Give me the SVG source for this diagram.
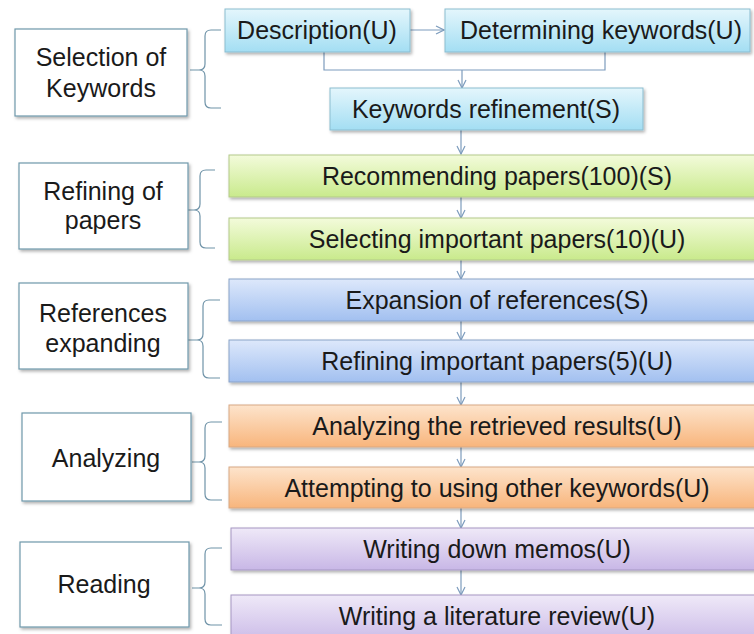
<svg xmlns="http://www.w3.org/2000/svg" width="754" height="634" viewBox="0 0 754 634">
<defs>
<linearGradient id="gCyan" x1="0" y1="0" x2="0" y2="1"><stop offset="0" stop-color="#e4f6fc"/><stop offset="1" stop-color="#a3def3"/></linearGradient>
<linearGradient id="gGreen" x1="0" y1="0" x2="0" y2="1"><stop offset="0" stop-color="#f3fbdb"/><stop offset="1" stop-color="#c9ea8c"/></linearGradient>
<linearGradient id="gBlue" x1="0" y1="0" x2="0" y2="1"><stop offset="0" stop-color="#dde8fb"/><stop offset="1" stop-color="#a2c0f0"/></linearGradient>
<linearGradient id="gOrange" x1="0" y1="0" x2="0" y2="1"><stop offset="0" stop-color="#fde4cc"/><stop offset="1" stop-color="#f8b57c"/></linearGradient>
<linearGradient id="gPurple" x1="0" y1="0" x2="0" y2="1"><stop offset="0" stop-color="#efe9f8"/><stop offset="1" stop-color="#c8b7e6"/></linearGradient>
<filter id="sh" x="-10%" y="-20%" width="120%" height="150%">
<feDropShadow dx="1.5" dy="2" stdDeviation="1.5" flood-color="#000" flood-opacity="0.3"/>
</filter>
<marker id="ah" viewBox="0 0 10 10" refX="9" refY="5" markerWidth="10" markerHeight="10" markerUnits="userSpaceOnUse" orient="auto">
<path d="M1,1 L9,5 L1,9" fill="none" stroke="#7d9cbd" stroke-width="1.2"/>
</marker>
</defs>
<style>
text{font-family:"Liberation Sans",Arial,sans-serif;font-size:25px;fill:#1a1a1a;text-anchor:middle}
.lbl{fill:#ffffff;stroke:#6f98ab;stroke-width:1.2}
.cy{fill:url(#gCyan);stroke:#8bbdd0;stroke-width:1}
.gr{fill:url(#gGreen);stroke:#b3c98a;stroke-width:1}
.bl{fill:url(#gBlue);stroke:#8aa3c8;stroke-width:1}
.or{fill:url(#gOrange);stroke:#d8a884;stroke-width:1}
.pu{fill:url(#gPurple);stroke:#a596c2;stroke-width:1}
.con{fill:none;stroke:#7d9cbd;stroke-width:1.2}
.br{fill:none;stroke:#6f93a8;stroke-width:1.2}
</style>
<rect width="754" height="634" fill="#ffffff"/>

<g id="connectors">
<line class="con" x1="410" y1="30" x2="444" y2="30" marker-end="url(#ah)"/>
<path class="con" d="M324,52 V70 H605 V52"/>
<line class="con" x1="462" y1="70" x2="462" y2="88" marker-end="url(#ah)"/>
<line class="con" x1="461" y1="130" x2="461" y2="154" marker-end="url(#ah)"/>
<line class="con" x1="461" y1="197" x2="461" y2="218" marker-end="url(#ah)"/>
<line class="con" x1="461" y1="260" x2="461" y2="279" marker-end="url(#ah)"/>
<line class="con" x1="461" y1="321" x2="461" y2="340" marker-end="url(#ah)"/>
<line class="con" x1="461" y1="382" x2="461" y2="405" marker-end="url(#ah)"/>
<line class="con" x1="461" y1="447" x2="461" y2="467" marker-end="url(#ah)"/>
<line class="con" x1="461" y1="508" x2="461" y2="528" marker-end="url(#ah)"/>
<line class="con" x1="461" y1="570" x2="461" y2="595" marker-end="url(#ah)"/>
<path class="br" d="M221,30 H211 Q205,30 205,36 V64 Q205,70 199,70 H190 M199,70 Q205,70 205,76 V102 Q205,108 211,108 H221"/>
<path class="br" d="M215,170 H206 Q200,170 200,176 V204 Q200,210 194,210 H185 M194,210 Q200,210 200,216 V242 Q200,248 206,248 H215"/>
<path class="br" d="M220,300 H209 Q203,300 203,306 V334 Q203,340 197,340 H188 M197,340 Q203,340 203,346 V372 Q203,378 209,378 H220"/>
<path class="br" d="M222,422 H211 Q205,422 205,428 V456 Q205,462 199,462 H192 M199,462 Q205,462 205,468 V494 Q205,500 211,500 H222"/>
<path class="br" d="M222,548 H211 Q205,548 205,554 V582 Q205,588 199,588 H192 M199,588 Q205,588 205,594 V619 Q205,625 211,625 H222"/>
</g>

<g id="selection-of-keywords"><rect class="lbl" x="15" y="29" width="172" height="87" filter="url(#sh)"/><text x="101" y="66">Selection of</text><text x="101" y="97">Keywords</text></g>
<g id="refining-of-papers"><rect class="lbl" x="19" y="163" width="169" height="86" filter="url(#sh)"/><text x="103" y="200">Refining of</text><text x="103" y="229">papers</text></g>
<g id="references-expanding"><rect class="lbl" x="19" y="283" width="169" height="86" filter="url(#sh)"/><text x="103" y="322">References</text><text x="103" y="352">expanding</text></g>
<g id="analyzing"><rect class="lbl" x="22" y="413" width="169" height="88" filter="url(#sh)"/><text x="106" y="467">Analyzing</text></g>
<g id="reading"><rect class="lbl" x="20" y="542" width="169" height="85" filter="url(#sh)"/><text x="104" y="593">Reading</text></g>

<g id="description"><rect class="cy" x="225" y="9" width="185" height="43" filter="url(#sh)"/><text x="317" y="39">Description(U)</text></g>
<g id="determining-keywords"><rect class="cy" x="445" y="9" width="305" height="43" filter="url(#sh)"/><text x="601" y="39">Determining keywords(U)</text></g>
<g id="keywords-refinement"><rect class="cy" x="330" y="88" width="313" height="42" filter="url(#sh)"/><text x="486" y="118">Keywords refinement(S)</text></g>

<g id="recommending-papers"><rect class="gr" x="229" y="155" width="536" height="42" filter="url(#sh)"/><text x="497" y="185">Recommending papers(100)(S)</text></g>
<g id="selecting-important-papers"><rect class="gr" x="229" y="218" width="536" height="42" filter="url(#sh)"/><text x="497" y="248">Selecting important papers(10)(U)</text></g>

<g id="expansion-of-references"><rect class="bl" x="229" y="279" width="536" height="42" filter="url(#sh)"/><text x="497" y="309">Expansion of references(S)</text></g>
<g id="refining-important-papers"><rect class="bl" x="229" y="340" width="536" height="42" filter="url(#sh)"/><text x="497" y="370">Refining important papers(5)(U)</text></g>

<g id="analyzing-results"><rect class="or" x="229" y="405" width="536" height="42" filter="url(#sh)"/><text x="497" y="435">Analyzing the retrieved results(U)</text></g>
<g id="attempting-other-keywords"><rect class="or" x="229" y="467" width="536" height="41" filter="url(#sh)"/><text x="497" y="497">Attempting to using other keywords(U)</text></g>

<g id="writing-memos"><rect class="pu" x="231" y="528" width="534" height="42" filter="url(#sh)"/><text x="497" y="558">Writing down memos(U)</text></g>
<g id="writing-review"><rect class="pu" x="231" y="595" width="534" height="50" filter="url(#sh)"/><text x="497" y="625">Writing a literature review(U)</text></g>
</svg>
